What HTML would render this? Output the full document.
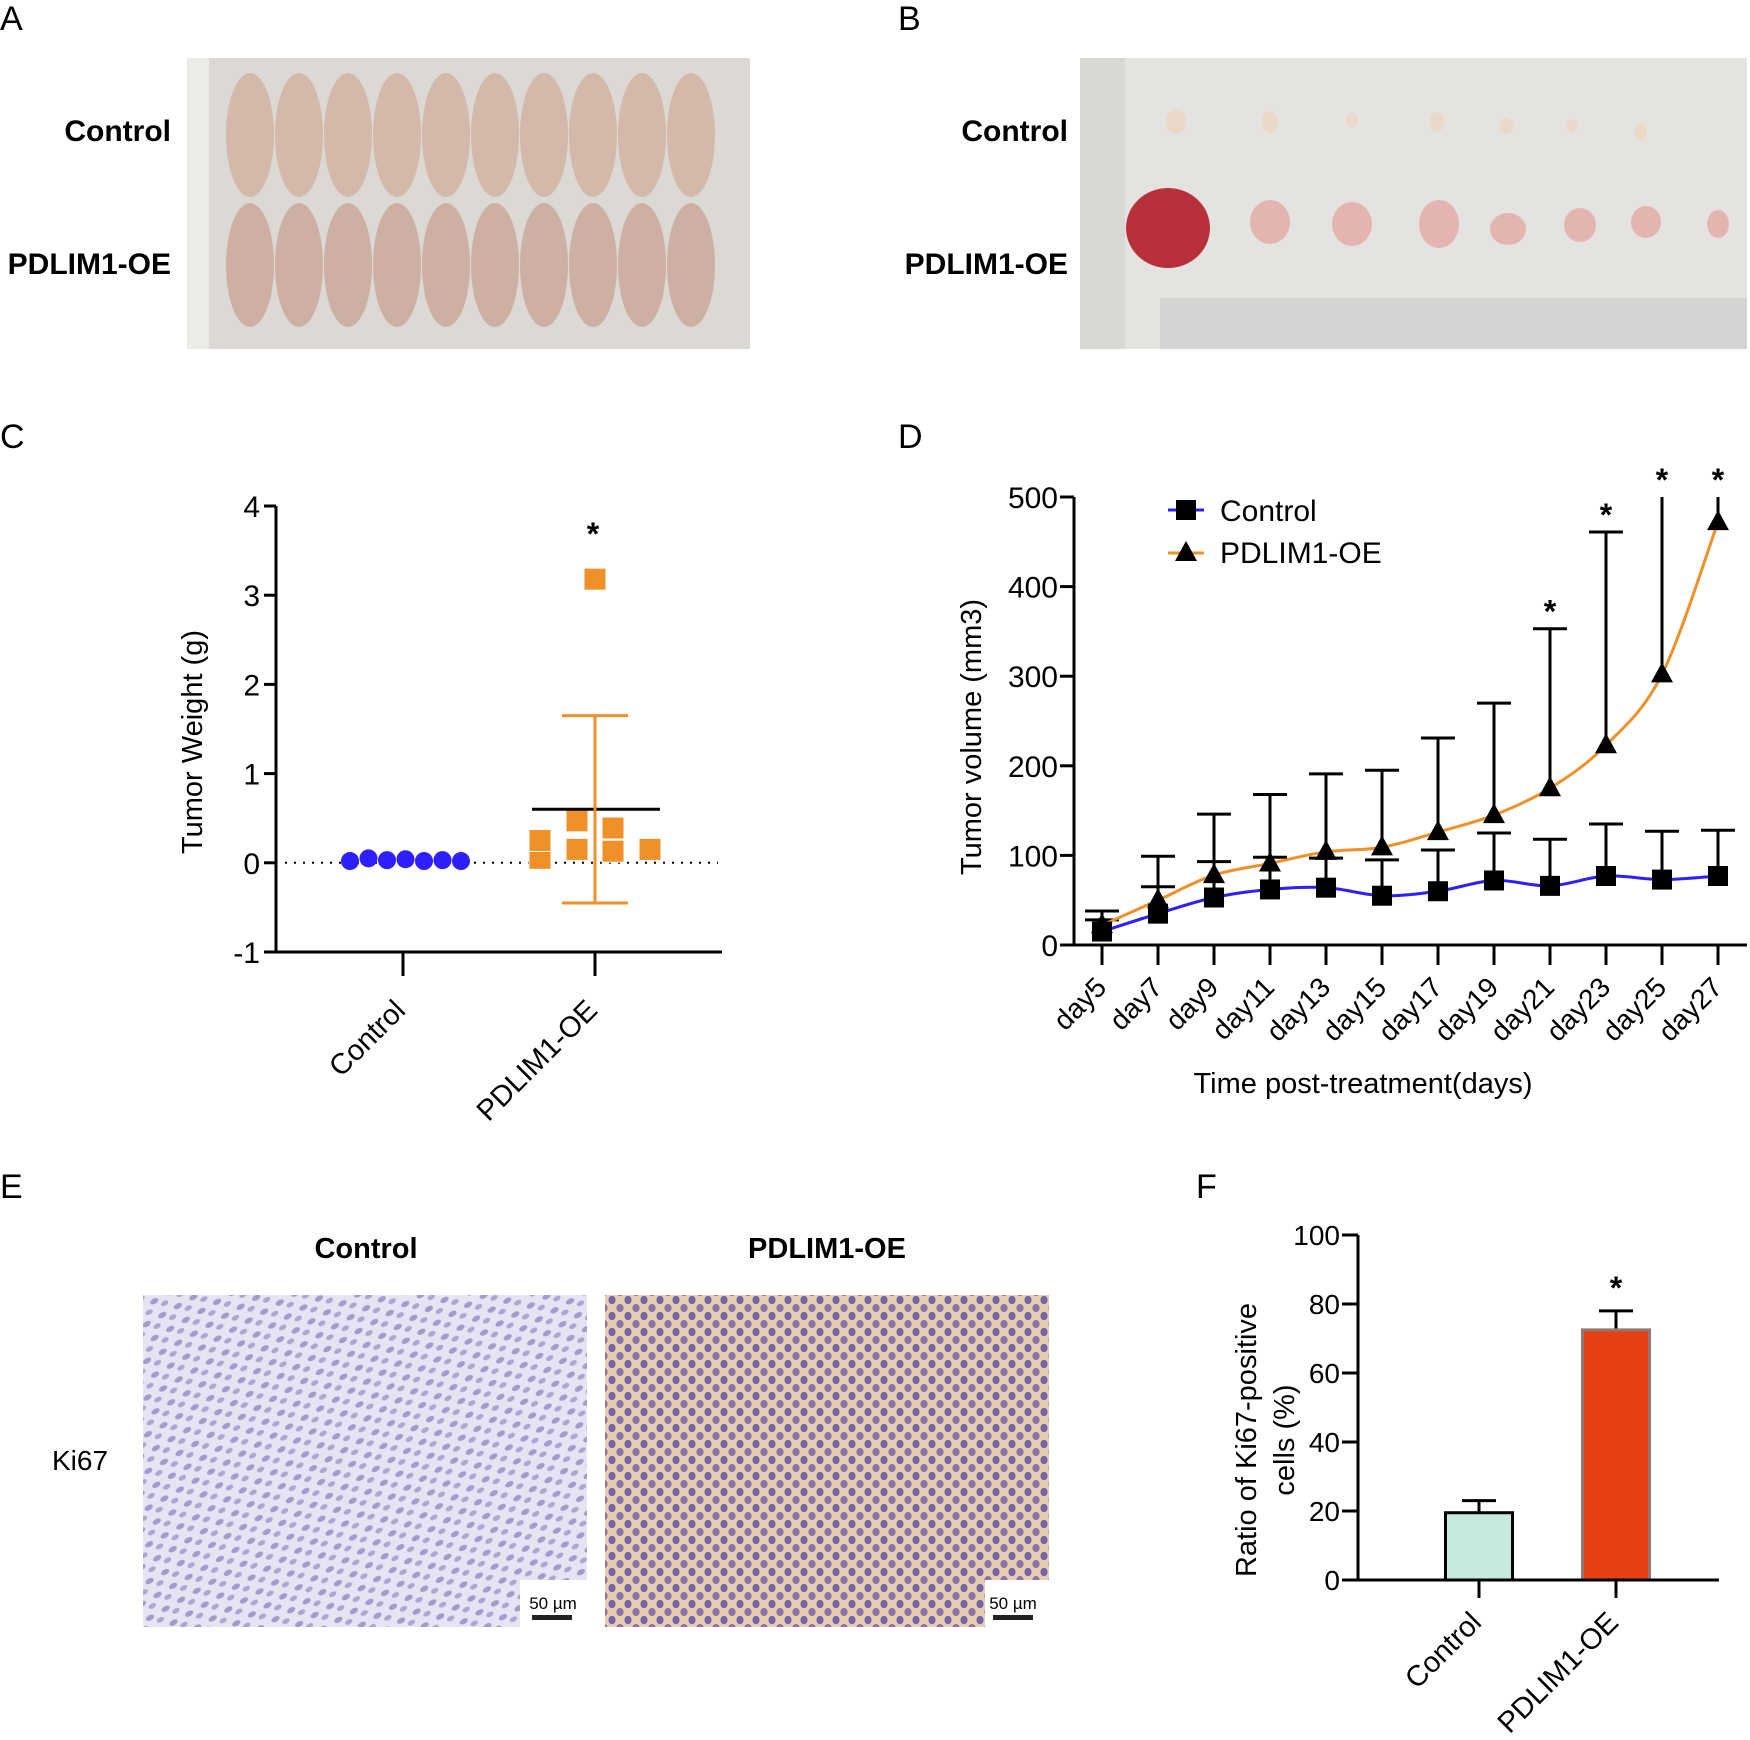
<!DOCTYPE html>
<html><head><meta charset="utf-8">
<style>
html,body{margin:0;padding:0;background:#fff;}
svg{display:block;font-family:"Liberation Sans",Arial,sans-serif;}
</style></head>
<body>
<svg id="fig" width="1750" height="1740" viewBox="0 0 1750 1740" xmlns="http://www.w3.org/2000/svg">
<defs>
  <pattern id="cellsL" width="18" height="16" patternUnits="userSpaceOnUse" patternTransform="rotate(-30)">
    <rect width="18" height="16" fill="#dcd8ee"/>
    <ellipse cx="5" cy="4" rx="4.5" ry="2.6" fill="#7a70b8"/>
    <ellipse cx="13" cy="11" rx="4" ry="2.4" fill="#8a80c2"/>
  </pattern>
  <pattern id="cellsR" width="16" height="16" patternUnits="userSpaceOnUse">
    <rect width="16" height="16" fill="#e6cdaf"/>
    <ellipse cx="4" cy="4" rx="3.6" ry="4.2" fill="#7565a8"/>
    <ellipse cx="12" cy="12" rx="3.6" ry="4" fill="#8672ac"/>
  </pattern>
</defs>

<text x="0" y="30" font-size="34">A</text>
<text x="898" y="30" font-size="34">B</text>
<text x="0" y="448" font-size="34">C</text>
<text x="898" y="448" font-size="34">D</text>
<text x="0" y="1198" font-size="34">E</text>
<text x="1196" y="1198" font-size="34">F</text>

<g>
  <rect x="187" y="58" width="563" height="291" fill="#dcd8d4"/>
  <rect x="187" y="58" width="22" height="291" fill="#ecebe8"/>
  <g id="mice"></g>
</g>
<text x="171" y="141" font-size="30" font-weight="bold" text-anchor="end">Control</text>
<text x="171" y="274" font-size="30" font-weight="bold" text-anchor="end">PDLIM1-OE</text>

<g>
  <rect x="1080" y="58" width="667" height="291" fill="#e4e3e0"/>
  <rect x="1080" y="58" width="45" height="291" fill="#d9d8d4"/>
  <rect x="1160" y="298" width="587" height="51" fill="#d2d4d2"/>
  <g id="tumors"></g>
</g>
<text x="1068" y="141" font-size="30" font-weight="bold" text-anchor="end">Control</text>
<text x="1068" y="274" font-size="30" font-weight="bold" text-anchor="end">PDLIM1-OE</text>

<g id="chartC"></g>
<g id="chartD"></g>

<text x="366" y="1258" font-size="29" font-weight="bold" text-anchor="middle">Control</text>
<text x="827" y="1258" font-size="29" font-weight="bold" text-anchor="middle">PDLIM1-OE</text>
<text x="52" y="1470" font-size="28">Ki67</text>
<g>
  <rect x="143" y="1295" width="444" height="332" fill="url(#cellsL)"/>
  <rect x="143" y="1295" width="444" height="332" fill="#fff" opacity="0.3"/>
  <rect x="520" y="1580" width="67" height="47" fill="#fff"/>
  <text x="553" y="1609" font-size="17" text-anchor="middle">50 µm</text>
  <rect x="532" y="1615" width="40" height="5" fill="#222"/>
</g>
<g>
  <rect x="605" y="1295" width="444" height="332" fill="url(#cellsR)"/>
  <rect x="985" y="1580" width="64" height="47" fill="#fff"/>
  <text x="1013" y="1609" font-size="17" text-anchor="middle">50 µm</text>
  <rect x="993" y="1615" width="40" height="5" fill="#222"/>
</g>

<g id="chartF"></g>
</svg>

<script>
// ---------- Chart C data ----------
const cGroups = ["Control", "PDLIM1-OE"];
const cControlValues = [0.02, 0.05, 0.03, 0.04, 0.02, 0.03, 0.02];
const cOEValues = [0.05, 0.25, 0.47, 0.15, 0.39, 0.13, 0.15, 3.18];
const cOEOffsets = [-55, -55, -18, -18, 18, 18, 55, 0];
const cOEMean = 0.6;
const cOEErrLow = -0.45;
const cOEErrHigh = 1.65;
const cTicks = [-1, 0, 1, 2, 3, 4];

// ---------- Chart D data ----------
const dDays = ["day5","day7","day9","day11","day13","day15","day17","day19","day21","day23","day25","day27"];
const dControl = [15, 35, 53, 62, 64, 55, 60, 72, 66, 77, 73, 77];
const dControlErr = [28, 65, 93, 98, 97, 95, 106, 125, 118, 135, 127, 128];
const dOE = [22, 50, 78, 91, 104, 109, 126, 145, 175, 223, 302, 472];
const dOEErr = [38, 99, 146, 168, 191, 195, 231, 270, 353, 461, 500, 500];
const dStars = [false,false,false,false,false,false,false,false,true,true,true,true];
const dTicks = [0, 100, 200, 300, 400, 500];

// ---------- Chart F data ----------
const fGroups = ["Control", "PDLIM1-OE"];
const fValues = [19.5, 72.5];
const fErrors = [23, 78];
const fTicks = [0, 20, 40, 60, 80, 100];

const NS = "http://www.w3.org/2000/svg";
function mk(parent, tag, attrs, text) {
  const e = document.createElementNS(NS, tag);
  for (const k in attrs) e.setAttribute(k, attrs[k]);
  if (text !== undefined) e.textContent = text;
  parent.appendChild(e);
  return e;
}

(function(){
  const g = document.getElementById('mice');
  for (let r = 0; r < 2; r++) {
    for (let i = 0; i < 10; i++) {
      const cx = 250 + i * 49;
      const cy = r === 0 ? 135 : 265;
      const e = mk(g, 'ellipse', {cx: cx, cy: cy, rx: 24, ry: 62, fill: r === 0 ? '#d4b9ab' : '#cdb0a3'});
      
      
    }
  }
  const t = document.getElementById('tumors');
  const top = [[1176,122,10,12],[1270,122,8,11],[1352,120,6,7],[1437,122,7,10],[1506,126,7,8],[1572,126,5,7],[1641,132,6,9]];
  const bot = [[1168,228,42,40],[1270,222,20,22],[1352,224,20,22],[1439,224,20,24],[1508,229,18,16],[1580,225,16,17],[1646,222,15,16],[1718,224,11,14]];
  top.forEach(p => { const e = mk(t,'ellipse',{cx:p[0],cy:p[1],rx:p[2],ry:p[3],fill:'#ead8c8'});   });
  bot.forEach((p,i) => { const e = mk(t,'ellipse',{cx:p[0],cy:p[1],rx:p[2],ry:p[3],fill:i===0?'#b8303a':'#e4b4b0'});   });
})();

// ---------- Chart C ----------
(function(){
  const g = document.getElementById('chartC');
  const x0 = 276, x1 = 722, yTop = 506, yBot = 952;
  const y = v => yBot - (v - (-1)) * (yBot - yTop) / 5;
  const xg = i => [403, 595][i];
  let e = mk(g,'line',{x1:x0,y1:yTop,x2:x0,y2:yBot,stroke:'#000','stroke-width':3});
   
  e = mk(g,'line',{x1:x0,y1:yBot,x2:x1,y2:yBot,stroke:'#000','stroke-width':3});
   
  cTicks.forEach(t => {
    mk(g,'line',{x1:x0-12,y1:y(t),x2:x0,y2:y(t),stroke:'#000','stroke-width':3});
    const tx = mk(g,'text',{x:x0-16,y:y(t)+11,'font-size':30,'text-anchor':'end'}, String(t));
     
  });
  e = mk(g,'line',{x1:285,y1:y(0),x2:718,y2:y(0),stroke:'#000','stroke-width':2,'stroke-dasharray':'2 7'});
   
  cGroups.forEach((name,i) => {
    mk(g,'line',{x1:xg(i),y1:yBot,x2:xg(i),y2:yBot+24,stroke:'#000','stroke-width':3});
    const tx = mk(g,'text',{x:xg(i)+4,y:yBot+60,'font-size':29,'text-anchor':'end',transform:`rotate(-45 ${xg(i)+4} ${yBot+60})`}, name);
     
  });
  cControlValues.forEach((v,i) => {
    const c = mk(g,'circle',{cx:350 + i*18.5,cy:y(v),r:9,fill:'#2d1fff'});
     
  });
  cOEValues.forEach((v,i) => {
    const cx = xg(1) + cOEOffsets[i];
    const r = mk(g,'rect',{x:cx-11,y:y(v)-11,width:22,height:22,fill:'#ef9029',stroke:'#fff','stroke-width':1});
     
  });
  e = mk(g,'line',{x1:532,y1:y(cOEMean),x2:660,y2:y(cOEMean),stroke:'#000','stroke-width':3});
   
  const eb = mk(g,'path',{d:`M${xg(1)} ${y(cOEErrLow)}V${y(cOEErrHigh)}M562 ${y(cOEErrHigh)}H628M562 ${y(cOEErrLow)}H628`,stroke:'#ef9029','stroke-width':3,fill:'none'});
   
  const st = mk(g,'text',{x:xg(1)-2,y:545,'font-size':32,'text-anchor':'middle','font-weight':'bold'},'*');
   
  const yt = mk(g,'text',{x:202,y:742,'font-size':29,'text-anchor':'middle',transform:`rotate(-90 202 742)`},'Tumor Weight (g)');
   
})();

// ---------- Chart D ----------
(function(){
  const g = document.getElementById('chartD');
  const x0 = 1074, x1 = 1747, yTop = 497, yBot = 945;
  const y = v => yBot - v * (yBot - yTop) / 500;
  const x = i => 1102 + i * (1718 - 1102) / (dDays.length - 1);
  let e = mk(g,'line',{x1:x0,y1:yTop,x2:x0,y2:yBot,stroke:'#000','stroke-width':3});
   
  e = mk(g,'line',{x1:x0-12,y1:yBot,x2:x1,y2:yBot,stroke:'#000','stroke-width':3});
   
  dTicks.forEach(t => {
    mk(g,'line',{x1:x0-14,y1:y(t),x2:x0,y2:y(t),stroke:'#000','stroke-width':3});
    const tx = mk(g,'text',{x:x0-16,y:y(t)+11,'font-size':30,'text-anchor':'end'}, String(t));
     
  });
  dDays.forEach((d,i) => {
    mk(g,'line',{x1:x(i),y1:yBot,x2:x(i),y2:yBot+20,stroke:'#000','stroke-width':3});
    const tx = mk(g,'text',{x:x(i)+6,y:yBot+44,'font-size':28,'text-anchor':'end',transform:`rotate(-45 ${x(i)+6} ${yBot+44})`}, d);
     
  });
  dDays.forEach((d,i) => {
    const p = mk(g,'path',{d:`M${x(i)} ${y(dOE[i])}V${y(dOEErr[i])}` + (dOEErr[i] < 500 ? `M${x(i)-17} ${y(dOEErr[i])}H${x(i)+17}` : ''),stroke:'#000','stroke-width':3,fill:'none'});
     
    const q = mk(g,'path',{d:`M${x(i)} ${y(dControl[i])}V${y(dControlErr[i])}M${x(i)-17} ${y(dControlErr[i])}H${x(i)+17}`,stroke:'#000','stroke-width':3,fill:'none'});
     
  });
  function smooth(vals){
    const pts = vals.map((v,i)=>[x(i),y(v)]);
    let d = `M${pts[0][0]} ${pts[0][1]}`;
    for (let i=0;i<pts.length-1;i++){
      const p0 = pts[i-1]||pts[i], p1=pts[i], p2=pts[i+1], p3=pts[i+2]||p2;
      const c1x = p1[0]+(p2[0]-p0[0])/6, c1y = p1[1]+(p2[1]-p0[1])/6;
      const c2x = p2[0]-(p3[0]-p1[0])/6, c2y = p2[1]-(p3[1]-p1[1])/6;
      d += `C${c1x} ${c1y} ${c2x} ${c2y} ${p2[0]} ${p2[1]}`;
    }
    return d;
  }
  const lc = mk(g,'path',{d:smooth(dControl),stroke:'#2d1fff','stroke-width':3,fill:'none'});
   
  const lo = mk(g,'path',{d:smooth(dOE),stroke:'#ef9029','stroke-width':3,fill:'none'});
   
  dControl.forEach((v,i) => {
    const r = mk(g,'rect',{x:x(i)-10,y:y(v)-10,width:20,height:20,fill:'#000'});
     
  });
  dOE.forEach((v,i) => {
    const cx = x(i), cy = y(v);
    const t = mk(g,'path',{d:`M${cx} ${cy-12}L${cx+11} ${cy+8}L${cx-11} ${cy+8}Z`,fill:'#000'});
     
  });
  dStars.forEach((s,i) => {
    if (!s) return;
    const top = Math.min(dOEErr[i], 500);
    const st = mk(g,'text',{x:x(i),y:y(top)-6,'font-size':32,'text-anchor':'middle','font-weight':'bold'},'*');
     
  });
  let l = mk(g,'line',{x1:1168,y1:510,x2:1204,y2:510,stroke:'#2d1fff','stroke-width':3});
   
  l = mk(g,'rect',{x:1176,y:500,width:20,height:20,fill:'#000'});
   
  l = mk(g,'text',{x:1220,y:521,'font-size':30},'Control');
   
  l = mk(g,'line',{x1:1168,y1:553,x2:1204,y2:553,stroke:'#ef9029','stroke-width':3});
   
  l = mk(g,'path',{d:'M1186 541L1197 561L1175 561Z',fill:'#000'});
   
  l = mk(g,'text',{x:1220,y:563,'font-size':30},'PDLIM1-OE');
   
  const xt = mk(g,'text',{x:1363,y:1093,'font-size':29,'text-anchor':'middle'},'Time post-treatment(days)');
   
  const yt = mk(g,'text',{x:981,y:737,'font-size':29,'text-anchor':'middle',transform:`rotate(-90 981 737)`},'Tumor volume (mm3)');
   
})();

// ---------- Chart F ----------
(function(){
  const g = document.getElementById('chartF');
  const x0 = 1358, x1 = 1719, yTop = 1235, yBot = 1580;
  const y = v => yBot - v * (yBot - yTop) / 100;
  const xc = i => [1479, 1616][i];
  const bw = 67;
  const fills = ['#c4eadc', '#e83e14'];
  const strokes = ['#000', '#8a7a70'];
  fValues.forEach((v,i) => {
    const eb = mk(g,'path',{d:`M${xc(i)} ${y(v)}V${y(fErrors[i])}M${xc(i)-17} ${y(fErrors[i])}H${xc(i)+17}`,stroke:'#000','stroke-width':3,fill:'none'});
     
    const r = mk(g,'rect',{x:xc(i)-bw/2,y:y(v),width:bw,height:yBot-y(v),fill:fills[i],stroke:strokes[i],'stroke-width':3});
     
  });
  let e = mk(g,'line',{x1:x0,y1:yTop,x2:x0,y2:yBot,stroke:'#000','stroke-width':3});
   
  e = mk(g,'line',{x1:x0-16,y1:yBot,x2:x1,y2:yBot,stroke:'#000','stroke-width':3});
   
  fTicks.forEach(t => {
    mk(g,'line',{x1:x0-16,y1:y(t),x2:x0,y2:y(t),stroke:'#000','stroke-width':3});
    const tx = mk(g,'text',{x:x0-18,y:y(t)+10,'font-size':28,'text-anchor':'end'}, String(t));
     
  });
  fGroups.forEach((n,i) => {
    mk(g,'line',{x1:xc(i),y1:yBot,x2:xc(i),y2:yBot+18,stroke:'#000','stroke-width':3});
    const tx = mk(g,'text',{x:xc(i)+4,y:yBot+44,'font-size':29,'text-anchor':'end',transform:`rotate(-45 ${xc(i)+4} ${yBot+44})`}, n);
     
  });
  const st = mk(g,'text',{x:xc(1),y:y(fErrors[1])-12,'font-size':32,'text-anchor':'middle','font-weight':'bold'},'*');
   
  const yc = 1440;
  const t1 = mk(g,'text',{x:1256,y:yc,'font-size':29,'text-anchor':'middle',transform:`rotate(-90 1256 ${yc})`},'Ratio of Ki67-positive');
   
  const t2 = mk(g,'text',{x:1294,y:yc,'font-size':29,'text-anchor':'middle',transform:`rotate(-90 1294 ${yc})`},'cells (%)');
   
})();
</script>
</body></html>
